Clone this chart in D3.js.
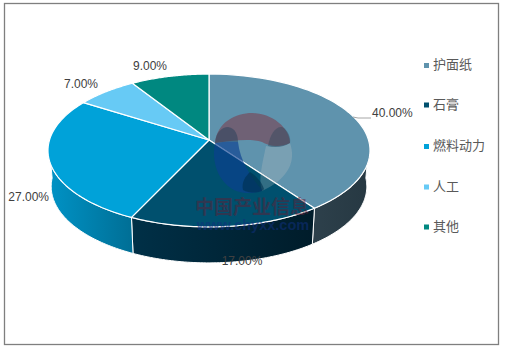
<!DOCTYPE html>
<html><head><meta charset="utf-8">
<script src="https://cdn.jsdelivr.net/npm/d3@7"></script>
<style>html,body{margin:0;padding:0;background:#fff}svg{display:block}</style>
</head><body><svg id="c" width="505" height="351"></svg>
<script>
const categories=["护面纸","石膏","燃料动力","人工","其他"];
const values=[40,17,27,7,9];
const labels=["40.00%","17.00%","27.00%","7.00%","9.00%"];
const colors=["#5f93ad","#00506e","#00a2d9","#67caf5","#008880"];
const sideLeft=["#2d404b","#003047","#0093c6","#5ab0d5","#007570"];
const sideRight=["#263842","#001c2a","#006f96","#4a9ac0","#006660"];

const svg=d3.select("#c");
svg.append("rect").attr("x",4.5).attr("y",3.5).attr("width",494).attr("height",341)
  .attr("fill","#fff").attr("stroke","#7f7f7f").attr("stroke-width",1.3);

// projected circle
const apexX=209,apexY=140,a=159.5,b=55.8,d=-0.137,depth=36,bottomScale=0.98;
const proj=t=>{const u=Math.sin(t),v=-Math.cos(t);const den=1+d*v;
  return [apexX+a*u/den,(b*v+apexY)/den];};
const pie=d3.pie().sort(null).value(v=>v)(values);
const defs=svg.append("defs");
const samples=(s,e)=>d3.range(0,61).map(i=>s+(e-s)*i/60);

// sides
const g=svg.append("g");
pie.forEach((p,i)=>{
  const lo=Math.max(p.startAngle,1.6),hi=Math.min(p.endAngle,2*Math.PI-1.6);
  if(hi<=lo) return;
  const pts=samples(lo,hi).map(proj);
  const xs=pts.map(q=>q[0]);
  const gr=defs.append("linearGradient").attr("id","s"+i).attr("gradientUnits","userSpaceOnUse")
    .attr("x1",d3.min(xs)).attr("x2",d3.max(xs)).attr("y1",0).attr("y2",0);
  gr.append("stop").attr("offset",0).attr("stop-color",sideLeft[i]);
  gr.append("stop").attr("offset",1).attr("stop-color",sideRight[i]);
  const lower=pts.slice().reverse().map(q=>[apexX+(q[0]-apexX)*bottomScale,q[1]+depth]);
  g.append("path").attr("d",d3.line()([...pts,...lower])+"Z").attr("fill",`url(#s${i})`)
   .attr("stroke","#fff").attr("stroke-width",1).attr("stroke-linejoin","round");
});
// top
pie.forEach((p,i)=>{
  const pts=samples(p.startAngle,p.endAngle).map(proj);
  g.append("path").attr("d",d3.line()([[apexX,apexY],...pts])+"Z")
   .attr("fill",colors[i]).attr("stroke","#fff").attr("stroke-width",1.2).attr("stroke-linejoin","round");
});

// watermark
const wm=svg.append("g").attr("pointer-events","none");
wm.append("path").attr("d","M290,143C296,160 290,178 262,191C258,180 262,165 266,146C275,148 284,147 290,143Z").attr("fill","#c8c8c8").attr("opacity",.25);
wm.append("path").attr("d","M215,143C217,122 236,113 252,113C272,113 290,128 290,143C280,148 268,146 262,142C250,138 230,141 215,143Z").attr("fill","#7a4050").attr("opacity",.6);
wm.append("path").attr("d","M215,143C210,168 224,192 246,193C258,193 262,191 262,190C250,176 240,160 238,142C230,141 222,142 215,143Z").attr("fill","#0a3f90").attr("opacity",.65);
wm.append("path").attr("d","M215,143C216,132 222,127 228,127C236,128 238,136 238,142C230,141 222,142 215,143Z").attr("fill","#26405a").attr("opacity",.5);
wm.append("path").attr("d","M268,146C270,134 276,126 282,127C288,130 291,138 290,143C284,147 275,148 268,146Z").attr("fill","#30465a").attr("opacity",.45);
wm.append("path").attr("d","M250,172C246,176 241,182 243,190C250,194 262,193 264,189C262,182 256,176 250,172Z").attr("fill","#00304f").attr("opacity",.6);
wm.append("text").attr("x",252).attr("y",214).attr("text-anchor","middle").attr("font-family","'Noto Sans CJK SC'").attr("font-weight",700).attr("font-size",19).attr("fill","#5e2035").attr("opacity",.5).text("中国产业信息");
wm.append("text").attr("x",253).attr("y",230).attr("text-anchor","middle").attr("font-family","'Liberation Sans'").attr("font-weight",700).attr("font-size",14.5).attr("fill","#10307c").attr("opacity",.55).text("www.chyxx.com");

// labels
const labelPos=[[372,117,"start"],[242,265,"middle"],[49,201,"end"],[81,88,"middle"],[150,70,"middle"]];
labels.forEach((t,i)=>{
  svg.append("text").attr("x",labelPos[i][0]).attr("y",labelPos[i][1]).attr("text-anchor",labelPos[i][2])
    .attr("font-family","'Liberation Sans'").attr("font-size",12).attr("fill","#404040").text(t);
});
svg.append("path").attr("d","M353,117L358,118H371").attr("stroke","#a6a6a6").attr("fill","none");

// legend
const legendY=[65.5,105,146.5,187,227];
categories.forEach((c,i)=>{
  svg.append("rect").attr("x",424).attr("y",legendY[i]-2.5).attr("width",5).attr("height",5).attr("fill",colors[i]);
  svg.append("text").attr("x",433).attr("y",legendY[i]+3.5).attr("font-family","'Noto Sans CJK SC'").attr("font-size",13).attr("fill","#595959").text(c);
});
</script></body></html>
